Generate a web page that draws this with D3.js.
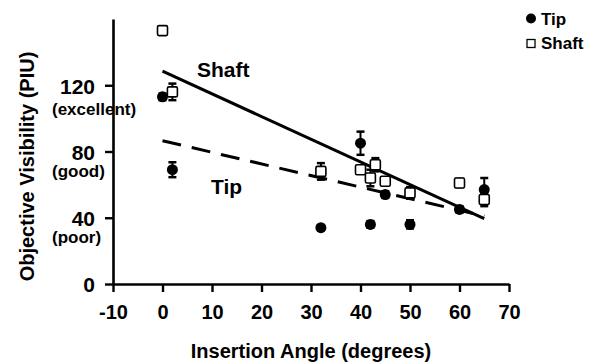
<!DOCTYPE html>
<html>
<head>
<meta charset="utf-8">
<script src="https://cdn.jsdelivr.net/npm/d3@7"></script>
<style>
  html, body { margin: 0; padding: 0; background: #fff; }
  svg { display: block; }
  text { font-family: "Liberation Sans", Arial, sans-serif; font-weight: bold; fill: #000; }
</style>
</head>
<body>
<svg id="chart" width="601" height="364"></svg>
<script>
// ---- data ----
const tipAngles   = [0, 2, 32, 40, 42, 45, 50, 60, 65];
const tipValues   = [113, 69, 34, 85, 36, 54, 36, 45, 57];
const tipErrors   = [2, 4.5, 1.5, 7, 2, 2, 2.5, 2, 7];

const shaftAngles = [0, 2, 32, 40, 42, 43, 45, 50, 60, 65];
const shaftValues = [153, 116, 68, 69, 64, 72, 62, 55, 61, 51];
const shaftErrors = [0, 5, 5, 2, 5, 4, 2, 3.5, 2.5, 4];

const shaftFitAngles = [0, 65];
const shaftFitValues = [128.5, 39.5];
const tipFitAngles   = [0, 65];
const tipFitValues   = [86.5, 41];

const xTickValues = [-10, 0, 10, 20, 30, 40, 50, 60, 70];
const yTickValues = [0, 40, 80, 120];
const yTickNotes  = ["", "(poor)", "(good)", "(excellent)"];

const xTitle = "Insertion Angle (degrees)";
const yTitle = "Objective Visibility (PIU)";
const seriesNames = ["Tip", "Shaft"];

// ---- scales ----
const x = d3.scaleLinear().domain([-10, 70]).range([113, 509]);
const y = d3.scaleLinear().domain([0, 160]).range([284, 19]);

const svg = d3.select("#chart");

// ---- axes ----
const xAxis = svg.append("g")
  .attr("transform", `translate(0,${y(0)})`)
  .call(d3.axisBottom(x).tickValues(xTickValues).tickSize(8).tickSizeOuter(0).tickPadding(13).tickFormat(d => String(d)));
xAxis.select(".domain").attr("stroke", "#000").attr("stroke-width", 2.6);
xAxis.selectAll(".tick line").attr("stroke", "#000").attr("stroke-width", 2.4);
xAxis.selectAll(".tick text").style("font-size", "20px").attr("fill", "#000");

const yAxis = svg.append("g")
  .attr("transform", `translate(${x(-10)},0)`)
  .call(d3.axisLeft(y).tickValues(yTickValues).tickSize(8).tickSizeOuter(0).tickPadding(10).tickFormat(d => String(d)));
yAxis.select(".domain").attr("stroke", "#000").attr("stroke-width", 2.6);
yAxis.selectAll(".tick line").attr("stroke", "#000").attr("stroke-width", 2.4);
yAxis.selectAll(".tick text").style("font-size", "21px").attr("fill", "#000").attr("dy", "0.38em");

// quality notes under the y tick labels
yAxis.selectAll(".tick").each(function(d) {
  const note = yTickNotes[yTickValues.indexOf(d)];
  if (note) {
    d3.select(this).append("text")
      .attr("x", 52 - x(-10))
      .attr("y", note === "(excellent)" ? 29 : 25)
      .attr("text-anchor", "start")
      .style("font-size", "17px")
      .attr("fill", "#000")
      .text(note);
  }
});

// axis titles
svg.append("text")
  .attr("x", (x(-10) + x(70)) / 2)
  .attr("y", 358)
  .attr("text-anchor", "middle")
  .style("font-size", "20px")
  .text(xTitle);

svg.append("text")
  .attr("transform", `translate(33.5,${(50 + 283) / 2}) rotate(-90)`)
  .attr("text-anchor", "middle")
  .style("font-size", "20px")
  .text(yTitle);

// ---- regression lines ----
const line = d3.line().x(d => x(d[0])).y(d => y(d[1]));
svg.append("path")
  .datum(d3.zip(shaftFitAngles, shaftFitValues))
  .attr("d", line)
  .attr("fill", "none").attr("stroke", "#000").attr("stroke-width", 3);
svg.append("path")
  .datum(d3.zip(tipFitAngles, tipFitValues))
  .attr("d", line)
  .attr("fill", "none").attr("stroke", "#000").attr("stroke-width", 3)
  .attr("stroke-dasharray", "19,11");

// line labels
svg.append("text").attr("x", 197).attr("y", 77).style("font-size", "21px").text(seriesNames[1]);
svg.append("text").attr("x", 211).attr("y", 194).style("font-size", "21px").text(seriesNames[0]);

// ---- error bars ----
function errorBars(angles, values, errors) {
  const g = svg.append("g").attr("stroke", "#000");
  const data = d3.zip(angles, values, errors).filter(d => d[2] > 0);
  g.selectAll("line.v").data(data).join("line")
    .attr("x1", d => x(d[0])).attr("x2", d => x(d[0]))
    .attr("y1", d => y(d[1] - d[2])).attr("y2", d => y(d[1] + d[2]))
    .attr("stroke-width", 2);
  g.selectAll("line.t").data(data).join("line")
    .attr("x1", d => x(d[0]) - 4).attr("x2", d => x(d[0]) + 4)
    .attr("y1", d => y(d[1] + d[2])).attr("y2", d => y(d[1] + d[2]))
    .attr("stroke-width", 2.5);
  g.selectAll("line.b").data(data).join("line")
    .attr("x1", d => x(d[0]) - 4).attr("x2", d => x(d[0]) + 4)
    .attr("y1", d => y(d[1] - d[2])).attr("y2", d => y(d[1] - d[2]))
    .attr("stroke-width", 2.5);
}
errorBars(shaftAngles, shaftValues, shaftErrors);
errorBars(tipAngles, tipValues, tipErrors);

// ---- markers ----
svg.append("g").selectAll("rect")
  .data(d3.zip(shaftAngles, shaftValues))
  .join("rect")
  .attr("x", d => x(d[0]) - 5).attr("y", d => y(d[1]) - 5)
  .attr("width", 10).attr("height", 10).attr("rx", 1.5)
  .attr("fill", "#fff").attr("stroke", "#000").attr("stroke-width", 1.6);

svg.append("g").selectAll("circle")
  .data(d3.zip(tipAngles, tipValues))
  .join("circle")
  .attr("cx", d => x(d[0])).attr("cy", d => y(d[1]))
  .attr("r", 5.5).attr("fill", "#000");

// ---- legend ----
const legend = svg.append("g");
legend.append("circle").attr("cx", 531).attr("cy", 18.5).attr("r", 5).attr("fill", "#000");
legend.append("text").attr("x", 541).attr("y", 25).style("font-size", "17px").text(seriesNames[0]);
legend.append("rect").attr("x", 527).attr("y", 39.5).attr("width", 8).attr("height", 8)
  .attr("fill", "#fff").attr("stroke", "#000").attr("stroke-width", 1.3);
legend.append("text").attr("x", 541).attr("y", 49).style("font-size", "17px").text(seriesNames[1]);
</script>
</body>
</html>
